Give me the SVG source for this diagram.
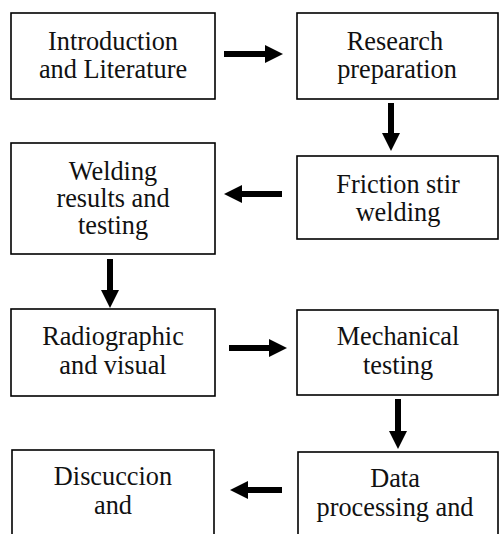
<svg xmlns="http://www.w3.org/2000/svg" width="499" height="534" viewBox="0 0 499 534">
  <style>
    .box { fill: #ffffff; stroke: #000000; stroke-width: 1.6; }
    .t { font-family: 'Liberation Serif', 'Times New Roman', serif; font-size: 26.3px; fill: #111111; text-anchor: middle; }
    .arr { stroke: #000000; stroke-width: 6; fill: none; marker-end: url(#ah); }
  </style>
  <defs>
    <marker id="ah" viewBox="0 0 18 18" refX="0" refY="9" markerWidth="18" markerHeight="18" markerUnits="userSpaceOnUse" orient="auto">
      <path d="M0,0 L18,9 L0,18 Z" fill="#000000"/>
    </marker>
  </defs>
  <rect width="499" height="534" fill="#ffffff"/>

  <g id="node-intro">
    <rect class="box" x="11" y="13" width="204" height="86"/>
    <text class="t" x="113" y="50">Introduction</text>
    <text class="t" x="113" y="78">and Literature</text>
  </g>
  <g id="node-research">
    <rect class="box" x="297" y="13" width="201" height="86"/>
    <text class="t" x="395" y="50">Research</text>
    <text class="t" x="397" y="78">preparation</text>
  </g>
  <g id="node-welding-results">
    <rect class="box" x="11" y="143" width="204" height="111"/>
    <text class="t" x="113" y="180">Welding</text>
    <text class="t" x="113" y="207">results and</text>
    <text class="t" x="113" y="234">testing</text>
  </g>
  <g id="node-fsw">
    <rect class="box" x="297" y="156" width="201" height="83"/>
    <text class="t" x="398" y="193">Friction stir</text>
    <text class="t" x="398" y="221">welding</text>
  </g>
  <g id="node-radiographic">
    <rect class="box" x="11" y="309" width="204" height="87"/>
    <text class="t" x="113" y="345">Radiographic</text>
    <text class="t" x="113" y="374">and visual</text>
  </g>
  <g id="node-mechanical">
    <rect class="box" x="297" y="310" width="201" height="85"/>
    <text class="t" x="398" y="345">Mechanical</text>
    <text class="t" x="398" y="374">testing</text>
  </g>
  <g id="node-discussion">
    <rect class="box" x="12" y="450" width="202" height="100"/>
    <text class="t" x="113" y="485">Discuccion</text>
    <text class="t" x="113" y="514">and</text>
  </g>
  <g id="node-data">
    <rect class="box" x="298" y="452" width="200" height="100"/>
    <text class="t" x="395" y="487">Data</text>
    <text class="t" x="395" y="516">processing and</text>
  </g>

  <g id="connectors">
    <line class="arr" x1="224" y1="54" x2="265" y2="54"/>
    <line class="arr" x1="391" y1="103" x2="391" y2="133"/>
    <line class="arr" x1="282" y1="194" x2="242" y2="194"/>
    <line class="arr" x1="110" y1="259" x2="110" y2="290"/>
    <line class="arr" x1="229" y1="348" x2="269" y2="348"/>
    <line class="arr" x1="398" y1="399" x2="398" y2="431"/>
    <line class="arr" x1="282" y1="490" x2="248" y2="490"/>
  </g>
</svg>
